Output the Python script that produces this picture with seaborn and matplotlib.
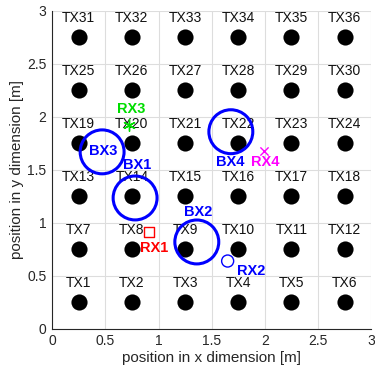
import numpy as np
import pandas as pd
import matplotlib
matplotlib.use("Agg")
import matplotlib.pyplot as plt
import seaborn as sns

# Transmitter grid (6 x 6 LEDs, 0.5 m pitch)
tx_x = [0.25, 0.75, 1.25, 1.75, 2.25, 2.75]
tx_y = [0.25, 0.75, 1.25, 1.75, 2.25, 2.75]

# Blocker positions
bx_names = ["BX1", "BX2", "BX3", "BX4"]
bx_x = [0.78, 1.36, 0.47, 1.68]
bx_y = [1.235, 0.82, 1.67, 1.86]
bx_label_x = [0.80, 1.37, 0.48, 1.67]
bx_label_y = [1.55, 1.10, 1.68, 1.57]

# Receiver positions
rx_names = ["RX1", "RX2", "RX3", "RX4"]
rx_x = [0.91, 1.65, 0.72, 1.99]
rx_y = [0.915, 0.64, 1.92, 1.68]
rx_label_x = [0.96, 1.87, 0.74, 2.00]
rx_label_y = [0.76, 0.55, 2.07, 1.57]
rx_colors = ["#ff0000", "#0000ff", "#00dd00", "#ff00ff"]
rx_markers = ["s", "o", (6, 2, 0), "x"]
rx_sizes = [45, 75, 70, 35]

sns.set_theme(style="white")
plt.rcParams["font.family"] = ["Liberation Sans", "DejaVu Sans"]

fig = plt.figure(figsize=(3.75, 3.75), dpi=100)
ax = fig.add_axes([0.139, 0.123, 0.851, 0.848])

gx, gy = np.meshgrid(tx_x, tx_y)
tx = pd.DataFrame({"x": gx.ravel(), "y": gy.ravel()})
tx["name"] = [f"TX{i + 1}" for i in range(len(tx))]

sns.scatterplot(data=tx, x="x", y="y", color="black", s=135,
                edgecolor="black", linewidth=0, ax=ax, zorder=3)
for _, r in tx.iterrows():
    ax.text(r["x"], r["y"] + 0.18, r["name"], ha="center", va="center",
            fontsize=10, color="#111111", zorder=4)

bx = pd.DataFrame({"x": bx_x, "y": bx_y})
sns.scatterplot(data=bx, x="x", y="y", marker="o", s=1000,
                facecolor="none", edgecolor="#0000ff", linewidth=2.2,
                ax=ax, zorder=5)
for n, lx, ly in zip(bx_names, bx_label_x, bx_label_y):
    ax.text(lx, ly, n, ha="center", va="center", fontsize=10.5,
            fontweight="bold", color="#0000ff", zorder=6)

for n, x, y, lx, ly, c, m, s in zip(rx_names, rx_x, rx_y, rx_label_x,
                                     rx_label_y, rx_colors, rx_markers, rx_sizes):
    if m == "x" or isinstance(m, tuple):
        sns.scatterplot(x=[x], y=[y], marker=m, s=s, color=c,
                        linewidth=1.0, ax=ax, zorder=6)
    else:
        sns.scatterplot(x=[x], y=[y], marker=m, s=s, facecolor="none",
                        edgecolor=c, linewidth=1.0, ax=ax, zorder=6)
    ax.text(lx, ly, n, ha="center", va="center", fontsize=10.5,
            fontweight="bold", color=c, zorder=6)

ax.set_xlim(0, 3)
ax.set_ylim(0, 3)
ticks = [0, 0.5, 1, 1.5, 2, 2.5, 3]
ax.set_xticks(ticks)
ax.set_yticks(ticks)
ax.set_xticklabels(["0", "0.5", "1", "1.5", "2", "2.5", "3"])
ax.set_yticklabels(["0", "0.5", "1", "1.5", "2", "2.5", "3"])
ax.grid(True, color="#dddddd", linewidth=0.8)
ax.set_axisbelow(True)
for side in ["top", "right"]:
    ax.spines[side].set_visible(False)
for side in ["left", "bottom"]:
    ax.spines[side].set_color("#262626")
    ax.spines[side].set_linewidth(0.8)
ax.tick_params(direction="in", length=3, width=0.8, color="#262626",
               labelsize=10, labelcolor="#262626", pad=4)
ax.set_xlabel("position in x dimension [m]", fontsize=11, color="#262626", labelpad=2)
ax.set_ylabel("position in y dimension [m]", fontsize=11, color="#262626", labelpad=2)

fig.savefig("out.png", dpi=100)
